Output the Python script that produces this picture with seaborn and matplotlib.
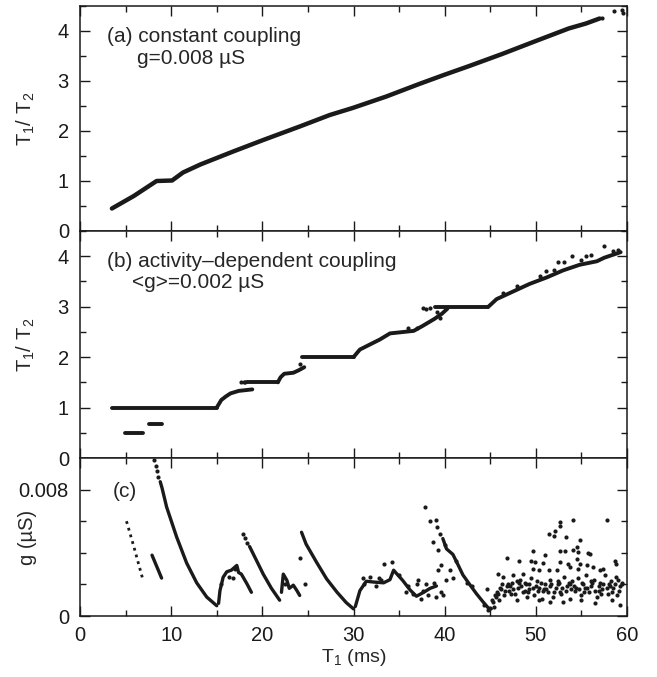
import pandas as pd
import matplotlib
matplotlib.use('Agg')
import matplotlib.pyplot as plt
from matplotlib.ticker import MultipleLocator, FixedLocator
import seaborn as sns

# ---- panel (a): constant coupling, T1/T2 vs T1 ----
a_t = [3.5, 5.9, 8.4, 10.1, 11.3, 13.2, 16.8, 20.1, 24.1, 27.4, 29.9, 33.6,
       37.2, 39.9, 42.7, 46.3, 50.0, 53.6, 55.5, 57.0]
a_v = [0.45, 0.70, 1.00, 1.01, 1.17, 1.33, 1.59, 1.82, 2.09, 2.32, 2.46, 2.69,
       2.94, 3.12, 3.30, 3.54, 3.80, 4.05, 4.15, 4.25]
a_dot_t = [57.3, 58.6, 59.4, 59.6]
a_dot_v = [4.27, 4.40, 4.42, 4.37]

# ---- panel (b): activity-dependent coupling ----
b_seg1_t = [3.5, 15.0];  b_seg1_v = [1.0, 1.0]
b_seg2_t = [4.9, 6.9];   b_seg2_v = [0.5, 0.5]
b_seg3_t = [7.6, 9.0];   b_seg3_v = [0.68, 0.68]
b_seg4_t = [15.0, 15.5, 16.0, 16.5, 17.4, 18.9]
b_seg4_v = [1.0, 1.15, 1.22, 1.28, 1.33, 1.36]
b_seg5_t = [18.3, 21.7]; b_seg5_v = [1.5, 1.5]
b_seg6_t = [21.7, 22.0, 22.4, 23.4, 24.0, 24.6]
b_seg6_v = [1.5, 1.6, 1.67, 1.69, 1.74, 1.8]
b_seg7_t = [24.3, 30.0]; b_seg7_v = [2.0, 2.0]
b_seg8_t = [30.0, 30.7, 31.8, 32.9, 34.0, 36.6, 37.6, 38.9, 39.7, 40.3]
b_seg8_v = [2.0, 2.15, 2.25, 2.35, 2.47, 2.52, 2.62, 2.76, 2.86, 2.96]
b_seg9_t = [38.9, 44.8]; b_seg9_v = [3.0, 3.0]
b_seg10_t = [44.8, 45.7, 47.5, 49.3, 51.2, 53.0, 54.8, 56.7, 57.5, 59.3]
b_seg10_v = [3.0, 3.15, 3.3, 3.45, 3.58, 3.72, 3.83, 3.9, 3.97, 4.08]
b_dot_t = [17.7, 17.95, 18.15, 24.1, 37.6, 38.0, 38.4, 51.1, 52.4, 53.1,
           54.0, 55.5, 56.0, 57.5, 47.9, 39.2, 39.5, 36.0, 37.0, 46.4, 50.5,
           52.0, 55.0, 58.5, 59.0]
b_dot_v = [1.5, 1.5, 1.5, 1.86, 2.97, 2.95, 2.97, 3.70, 3.88, 3.88,
           4.0, 4.0, 4.02, 4.21, 3.40, 2.9, 2.78, 2.57, 2.58, 3.28, 3.6,
           3.72, 3.92, 4.1, 4.12]

# ---- panel (c): coupling conductance g (x1e-3 uS) ----
c_seg1_t = [5.1, 5.9, 6.9];   c_seg1_v = [6.0, 4.4, 2.3]
c_seg2_t = [7.9, 8.95];       c_seg2_v = [3.85, 2.4]
c_seg3_t = [8.8, 9.0, 9.5, 10.6, 11.7, 12.8, 13.9, 15.0]
c_seg3_v = [8.5, 8.1, 6.9, 5.0, 3.35, 2.1, 1.2, 0.65]
c_seg4_t = [15.2, 15.35, 15.7, 16.1, 16.6, 17.2, 17.4, 17.7, 18.3, 18.8]
c_seg4_v = [0.8, 1.6, 2.45, 2.8, 2.9, 3.2, 2.75, 2.65, 2.05, 1.5]
c_seg5_t = [18.6, 19.2, 20.1, 21.0, 21.9]
c_seg5_v = [4.4, 3.7, 2.65, 1.75, 1.0]
c_seg6_t = [22.1, 22.3, 22.7, 22.95, 23.4, 23.8, 24.1]
c_seg6_v = [1.5, 2.65, 2.25, 1.75, 1.95, 1.6, 1.3]
c_seg7_t = [24.3, 24.8, 25.95, 27.05, 28.2, 29.2, 30.0]
c_seg7_v = [5.3, 4.55, 3.4, 2.35, 1.5, 0.85, 0.45]
c_seg8_t = [30.2, 30.7, 31.4, 32.2, 33.3, 34.0, 34.4, 34.7, 35.4, 36.2, 36.9,
            37.7, 38.4, 39.1]
c_seg8_v = [0.6, 1.6, 2.2, 2.15, 2.1, 2.3, 2.9, 2.7, 2.25, 1.65, 1.25,
            1.5, 1.75, 1.9]
c_seg9_t = [39.8, 40.2, 40.9, 41.5, 42.0, 42.8, 43.5, 44.2, 44.8, 45.1]
c_seg9_v = [4.9, 4.25, 3.9, 3.2, 2.6, 1.95, 1.4, 0.9, 0.5, 0.45]
c_dotted_t = [8.1, 8.3, 8.45, 8.6, 17.9, 18.1, 18.35]
c_dotted_v = [9.9, 9.5, 9.15, 8.8, 5.2, 4.95, 4.65]
c_dot_t = [15.5, 16.3, 16.8, 17.0, 22.5, 24.1, 24.7,
           31.0, 31.8, 32.5, 33.0, 33.4, 34.2, 35.0, 36.0, 36.5, 37.0, 37.4,
           38.0, 38.2, 38.8, 39.0, 39.6, 39.8, 31.2, 32.8, 35.8, 37.6,
           37.8, 38.4, 39.1, 39.2, 39.5, 38.7, 39.3, 40.0, 39.3, 39.65,
           40.6, 40.9, 40.2, 37.1, 41.2, 42.4, 43.0,
           52.6, 52.6, 52.1, 51.4, 52.0, 53.3, 54.1, 57.8, 54.8, 54.5, 54.1,
           54.6, 52.6, 53.2, 55.7, 55.9, 49.7, 51.0, 46.8, 48.1, 49.5, 49.9,
           50.8, 52.6, 53.5, 54.5, 54.8, 58.7, 58.8, 55.6, 56.3, 57.4, 57.0,
           54.6, 53.7, 52.3, 51.4, 49.7, 50.3, 48.6, 47.5, 45.9, 46.4, 44.6,
           45.0, 45.3, 45.6, 45.9, 46.2, 46.5, 46.8, 47.1, 47.4, 47.7, 48.0,
           48.3, 48.6, 48.9, 49.2, 49.5, 49.8, 50.1, 50.4, 50.7, 51.0, 51.3,
           51.6, 51.9, 52.2, 52.5, 52.8, 53.1, 53.4, 53.7, 54.0, 54.3, 54.6,
           54.9, 55.2, 55.5, 55.8, 56.1, 56.4, 56.7, 57.0, 57.3, 57.6, 57.9,
           58.2, 58.5, 58.8, 59.1, 59.4, 59.2, 58.4, 47.9, 49.0, 50.3, 51.5,
           53.0, 55.0, 56.5, 46.0, 45.4, 44.3, 44.8, 47.2, 48.8, 50.9, 52.4,
           53.9, 55.4, 56.9, 58.1, 59.0,
           45.2, 45.7, 46.1, 46.6, 47.0, 47.5, 47.9, 48.4, 48.8, 49.3, 49.7,
           50.2, 50.6, 51.1, 51.5, 52.0, 52.4, 52.9, 53.3, 53.8, 54.2, 54.7,
           55.1, 55.6, 56.0, 56.5, 56.9, 57.4, 57.8, 58.3, 58.7, 59.2, 59.5,
           45.5, 46.3, 47.3, 48.2, 49.1, 50.0, 50.8, 51.7, 52.7, 53.6, 54.4,
           55.3, 56.2, 57.1, 58.0, 58.9]
c_dot_v = [2.0, 2.5, 2.4, 3.0, 2.0, 3.7, 2.05,
           2.4, 2.5, 1.9, 2.3, 3.3, 3.4, 2.6, 1.9, 1.4, 2.0, 1.1,
           2.0, 1.3, 2.1, 1.2, 1.5, 1.3, 2.0, 2.4, 1.5, 1.6,
           6.9, 6.0, 6.05, 5.65, 5.2, 4.7, 4.15, 4.5, 2.9, 3.2,
           2.9, 2.4, 2.25, 2.25, 3.5, 2.1, 1.9,
           5.97, 5.68, 5.41, 5.16, 5.07, 4.99, 6.08, 6.1, 4.78, 4.36, 4.15,
           4.05, 4.09, 4.1, 3.98, 3.94, 4.09, 3.88, 3.69, 3.48, 3.48, 3.42,
           3.37, 3.42, 3.31, 3.6, 3.31, 3.48, 3.27, 3.21, 3.10, 3.0, 2.89,
           3.0, 3.10, 2.89, 2.89, 3.0, 2.89, 2.66, 2.58, 2.68, 2.47, 1.72,
           0.5, 0.9, 1.2, 1.4, 1.7, 1.3, 1.9, 1.6, 2.1, 1.4, 1.8,
           2.3, 1.5, 2.0, 1.7, 2.4, 1.3, 2.2, 1.8, 1.1, 2.0, 1.5,
           2.3, 1.2, 1.8, 2.1, 1.4, 2.5, 1.9, 1.1, 2.2, 1.6, 2.4,
           1.3, 2.0, 2.6, 1.5, 1.9, 2.3, 1.2, 2.1, 1.7, 2.6, 1.4,
           2.2, 1.8, 2.5, 1.6, 2.0, 0.7, 1.0, 1.0, 1.2, 1.0, 0.9,
           0.9, 1.0, 0.8, 1.0, 0.6, 0.7, 0.4, 1.9, 2.1, 1.7, 2.0,
           1.7, 1.8, 1.6, 1.9, 2.3,
           1.0, 1.5, 1.8, 1.6, 2.0, 1.7, 2.2, 1.9, 1.6, 2.0, 1.8,
           1.6, 2.1, 1.7, 1.9, 1.5, 2.2, 1.8, 1.6, 2.0, 1.9, 1.7,
           2.1, 1.8, 2.2, 1.6, 1.9, 2.0, 1.8, 1.5, 2.0, 1.9, 2.1,
           1.3, 2.0, 1.4, 2.1, 1.5, 1.9, 1.6, 2.0, 1.5, 2.1, 1.8,
           1.5, 2.1, 1.4, 2.0, 1.3]


def seg_frame(segs):
    rows = []
    for i, (ts, vs) in enumerate(segs):
        for t, v in zip(ts, vs):
            rows.append((i, t, v))
    return pd.DataFrame(rows, columns=['seg', 't', 'v'])


sns.set_theme(style='white')
plt.rcParams['font.family'] = ['Liberation Sans', 'DejaVu Sans']

fig = plt.figure(figsize=(6.57, 6.77), dpi=100)
L, W = 80 / 657, 547 / 657
ax_a = fig.add_axes([L, 1 - 231 / 677, W, 225 / 677])
ax_b = fig.add_axes([L, 1 - 458 / 677, W, 227 / 677], sharex=ax_a)
ax_c = fig.add_axes([L, 1 - 616 / 677, W, 158 / 677], sharex=ax_a)

# panel (a)
sns.lineplot(x=a_t, y=a_v, ax=ax_a, color='k', lw=3.2, sort=False)
sns.scatterplot(x=a_dot_t, y=a_dot_v, ax=ax_a, color='k', s=9, linewidth=0)

# panel (b)
b_df = seg_frame([(b_seg1_t, b_seg1_v), (b_seg2_t, b_seg2_v), (b_seg3_t, b_seg3_v),
                  (b_seg4_t, b_seg4_v), (b_seg5_t, b_seg5_v), (b_seg6_t, b_seg6_v),
                  (b_seg7_t, b_seg7_v), (b_seg8_t, b_seg8_v), (b_seg9_t, b_seg9_v),
                  (b_seg10_t, b_seg10_v)])
sns.lineplot(data=b_df, x='t', y='v', units='seg', estimator=None, sort=False,
             ax=ax_b, color='k', lw=2.8)
sns.scatterplot(x=b_dot_t, y=b_dot_v, ax=ax_b, color='k', s=9, linewidth=0)

# panel (c)
scale = 0.001
c_df = seg_frame([(c_seg2_t, c_seg2_v), (c_seg3_t, c_seg3_v), (c_seg4_t, c_seg4_v),
                  (c_seg5_t, c_seg5_v), (c_seg6_t, c_seg6_v), (c_seg7_t, c_seg7_v),
                  (c_seg8_t, c_seg8_v), (c_seg9_t, c_seg9_v)])
c_df['v'] = c_df['v'] * scale
sns.lineplot(data=c_df, x='t', y='v', units='seg', estimator=None, sort=False,
             ax=ax_c, color='k', lw=2.4)
sns.lineplot(x=c_seg1_t, y=[v * scale for v in c_seg1_v], ax=ax_c, color='k',
             lw=2.0, sort=False, linestyle=(0, (1, 1.5)))
sns.scatterplot(x=c_dotted_t, y=[v * scale for v in c_dotted_v], ax=ax_c,
                color='k', s=9, linewidth=0)
sns.scatterplot(x=c_dot_t, y=[v * scale for v in c_dot_v], ax=ax_c,
                color='k', s=9, linewidth=0)

# axes styling
for ax in (ax_a, ax_b, ax_c):
    ax.set_xlim(0, 60)
    ax.xaxis.set_major_locator(MultipleLocator(10))
    ax.xaxis.set_minor_locator(MultipleLocator(5))
    ax.tick_params(which='both', direction='in', top=True, right=True,
                   bottom=True, left=True, colors='k', labelsize=14.5, width=1.0)
    ax.tick_params(which='major', length=7)
    ax.tick_params(which='minor', length=4.5)
    ax.tick_params(axis='y', pad=8)
    ax.tick_params(axis='x', pad=7)
    for s in ax.spines.values():
        s.set_color('k')
        s.set_linewidth(1.1)
    ax.set_xlabel('')
    ax.yaxis.set_label_coords(-0.079, 0.5)

for ax in (ax_a, ax_b):
    ax.set_ylim(0, 4.5)
    ax.yaxis.set_major_locator(MultipleLocator(1))
    ax.yaxis.set_minor_locator(MultipleLocator(0.5))
    ax.tick_params(labelbottom=False)
    ax.set_ylabel(r'$\mathregular{T_1/\ T_2}$', fontsize=14.5)

ax_c.set_ylim(0, 0.01)
ax_c.set_yticks([0, 0.008])
ax_c.set_yticklabels(['0', '0.008'])
ax_c.yaxis.set_minor_locator(FixedLocator([0.002, 0.004, 0.006]))
ax_c.set_ylabel('g (µS)', fontsize=14.5)
ax_c.set_xlabel(r'$\mathregular{T_1}$ (ms)', fontsize=14)
ax_c.yaxis.set_label_coords(-0.079, 0.5)
ax_c.xaxis.set_label_coords(0.5, -0.195)

ax_a.text(3.0, 3.9, '(a) constant coupling', fontsize=15, va='center')
ax_a.text(6.2, 3.46, 'g=0.008 µS', fontsize=15, va='center')
ax_b.text(3.0, 3.9, '(b) activity\u2013dependent coupling', fontsize=15, va='center')
ax_b.text(5.7, 3.47, '<g>=0.002 µS', fontsize=15, va='center')
ax_c.text(3.6, 0.00786, '(c)', fontsize=15, va='center')

fig.savefig('out.png', dpi=100)
